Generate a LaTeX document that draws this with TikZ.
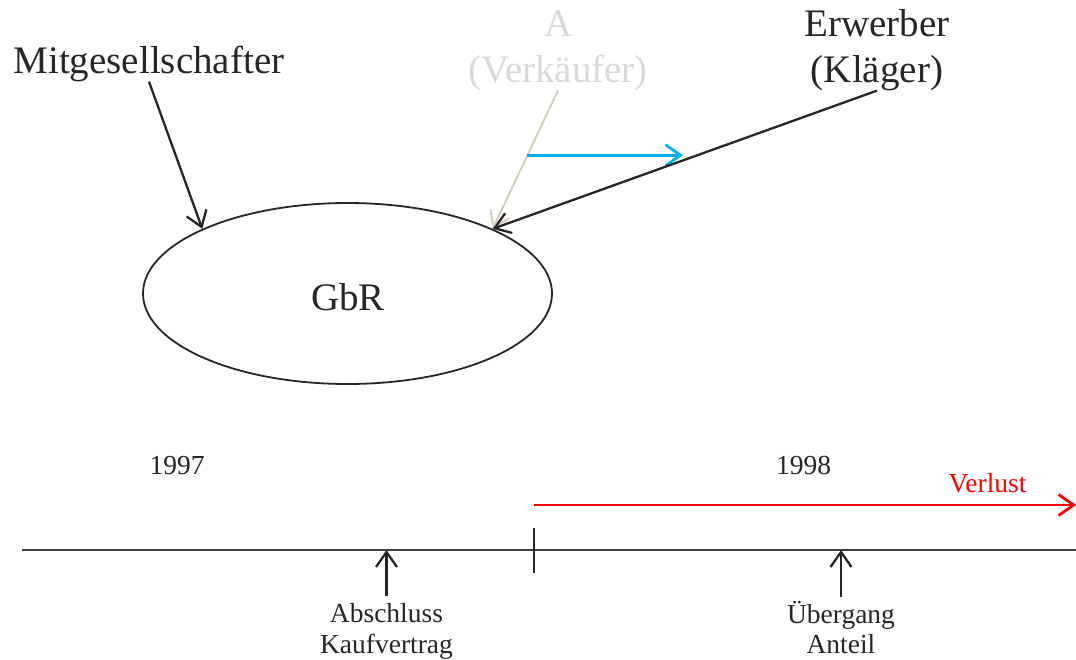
\documentclass[tikz,border=0pt]{standalone}
\usepackage{fontspec}
\setmainfont{Liberation Serif}
\usetikzlibrary{arrows.meta,shapes.geometric}
\definecolor{ink}{HTML}{262626}
\definecolor{faint}{HTML}{D9D9D9}
\definecolor{beige}{HTML}{D8CCBC}
\definecolor{sky}{HTML}{00B0F0}
\definecolor{axiscol}{HTML}{3F3F3F}
\begin{document}
\begin{tikzpicture}[x=1pt,y=-1pt,
  bigtext/.style={font=\fontsize{39}{47}\selectfont, text=ink, inner sep=0pt, anchor=base},
  smalltext/.style={font=\fontsize{27.5}{33}\selectfont, text=ink, inner sep=0pt, anchor=base},
  tip/.style={-{Straight Barb[length=15pt,width=21pt]}},
  pointer/.style={tip, draw=ink, line width=2.3pt},
]
\useasboundingbox (0,0) rectangle (1076,659);

% top labels
\node[bigtext] (mitg) at (149,73) {Mitgesellschafter};
\node[bigtext, text=faint] (a) at (558.5,36) {A};
\node[bigtext, text=faint] (verk) at (558,82) {(Verkäufer)};
\node[bigtext] (erw) at (877,36) {Erwerber};
\node[bigtext] (klaeger) at (877,82) {(Kläger)};

% GbR ellipse
\node[draw=ink, line width=1.8pt, ellipse, minimum width=409pt, minimum height=181pt, inner sep=0pt] (gbr) at (347.5,293.5) {};
\node[bigtext] (gbrtext) at (348,310) {GbR};

% connectors
\draw[pointer] (mitg.south) -- (gbr.156);
\draw[tip, draw=beige, line width=2pt] (verk.south) -- (gbr.24);
\path (verk.south) -- (gbr.24) coordinate[pos=0.468] (bluestart);
\coordinate (blueend) at (683,155);
\draw[tip, draw=sky, line width=2.8pt] (bluestart) -- (bluestart -| blueend);
\draw[pointer] (klaeger.south) -- (gbr.24);

% timeline
\node[smalltext] (y1997) at (177,474) {1997};
\node[smalltext] (y1998) at (803.5,474) {1998};
\node[smalltext, text=red] (verlust) at (987.5,492) {Verlust};

\coordinate (tlstart) at (22,550);
\coordinate (tlend) at (1076,550);
\draw[axiscol, line width=2.3pt] (tlstart) -- (tlend);

\coordinate (ticktop) at (534,528);
\coordinate (tickbot) at (534,573);
\draw[ink, line width=1.8pt] (ticktop) -- (tickbot);

\coordinate (redstart) at (534,505);
\coordinate (redend) at (1076,505);
\draw[tip, draw=red, line width=2.8pt] (redstart) -- (redend);

\coordinate (abs0) at (386.5,596);
\coordinate (abs1) at (386.5,550);
\draw[pointer] (abs0) -- (abs1);
\node[smalltext] (abschluss) at (386.5,622) {Abschluss};
\node[smalltext] (kaufvertrag) at (386.5,653) {Kaufvertrag};

\coordinate (ueb0) at (841,597);
\coordinate (ueb1) at (841,550);
\draw[pointer] (ueb0) -- (ueb1);
\node[smalltext] (uebergang) at (841,623) {Übergang};
\node[smalltext] (anteil) at (841,653) {Anteil};
\end{tikzpicture}
\end{document}
